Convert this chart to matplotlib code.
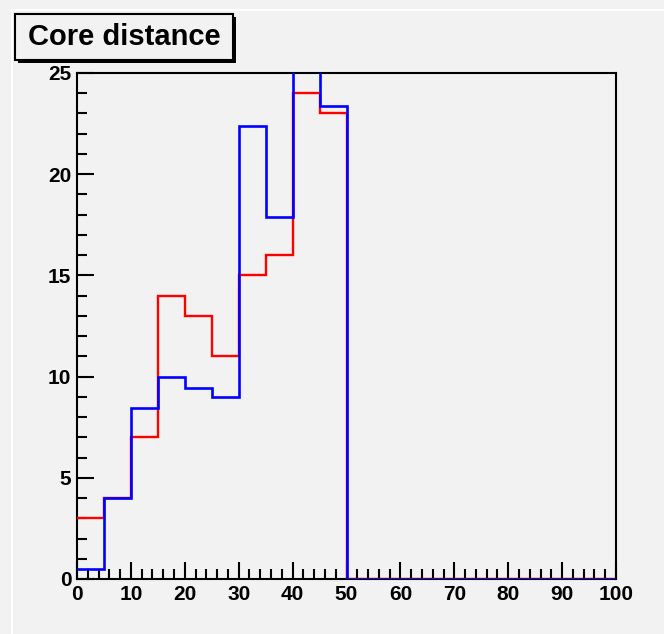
import numpy as np
import matplotlib.pyplot as plt
from matplotlib.patches import Rectangle
from matplotlib.lines import Line2D
from matplotlib.ticker import MultipleLocator

# bin edges 0..100 in steps of 5
edges = np.arange(0, 105, 5)
red_counts = [3, 4, 7, 14, 13, 11, 15, 16, 24, 23,
              0, 0, 0, 0, 0, 0, 0, 0, 0, 0]
blue_counts = [0.5, 4, 8.45, 10, 9.45, 9, 22.4, 17.9, 27, 23.35,
               0, 0, 0, 0, 0, 0, 0, 0, 0, 0]
title_text = "Core distance"

W, H = 664, 634
bg = "#f2f2f2"
plt.rcParams['font.family'] = ['Liberation Sans', 'DejaVu Sans']

fig = plt.figure(figsize=(W / 100, H / 100), dpi=100, facecolor=bg)

# pad border lines
fig.add_artist(Line2D([12 / W, 1], [1 - 10 / H, 1 - 10 / H], color="white", lw=1.5))
fig.add_artist(Line2D([12 / W, 12 / W], [0, 1 - 10 / H], color="white", lw=1.5))

x0, x1, y0, y1 = 77, 616, 73, 579
ax = fig.add_axes([x0 / W, 1 - y1 / H, (x1 - x0) / W, (y1 - y0) / H])
ax.set_facecolor(bg)

ax.stairs(red_counts, edges, baseline=None, color="#ff0000", lw=1.7, zorder=3)
ax.stairs(blue_counts, edges, baseline=None, color="#0000ff", lw=1.9, zorder=3.1)

ax.set_xlim(0, 100)
ax.set_ylim(0, 25)
ax.xaxis.set_major_locator(MultipleLocator(10))
ax.xaxis.set_minor_locator(MultipleLocator(2))
ax.yaxis.set_major_locator(MultipleLocator(5))
ax.yaxis.set_minor_locator(MultipleLocator(1))
ax.tick_params(which="major", direction="in", length=12, width=1.5,
               labelsize=15, pad=4)
ax.tick_params(which="minor", direction="in", length=7, width=1.5)
for lab in ax.get_xticklabels() + ax.get_yticklabels():
    lab.set_fontweight("bold")
for s in ax.spines.values():
    s.set_linewidth(1.5)
    s.set_zorder(2.5)

# title box with shadow
bx0, by0, bx1, by1 = 15, 14, 233, 60
fig.add_artist(Rectangle((bx0 / W + 3 / W, 1 - by1 / H - 3 / H), (bx1 - bx0) / W, (by1 - by0) / H,
                         transform=fig.transFigure, facecolor="black", edgecolor="black", lw=0))
fig.add_artist(Rectangle((bx0 / W, 1 - by1 / H), (bx1 - bx0) / W, (by1 - by0) / H,
                         transform=fig.transFigure, facecolor=bg, edgecolor="black", lw=1.5))
fig.text((bx0 + bx1) / 2 / W, 1 - (by0 + by1) / 2 / H, title_text, ha="center", va="center",
         fontsize=21, fontweight="bold")

fig.savefig("out.png", dpi=100, facecolor=bg)
